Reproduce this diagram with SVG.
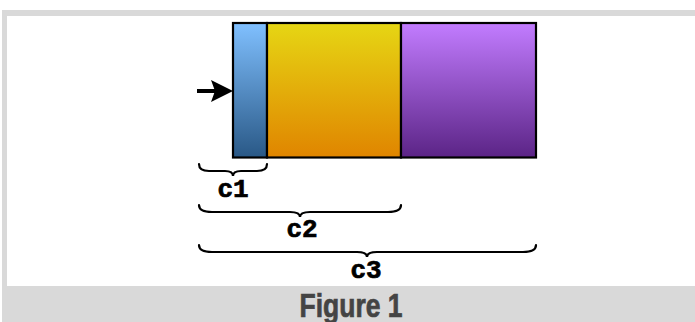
<svg xmlns="http://www.w3.org/2000/svg" width="695" height="322" viewBox="0 0 695 322">
<style>
.box{stroke:#000;stroke-width:2.2}
.brace{fill:none;stroke:#000;stroke-width:2.2;stroke-linecap:round}
.lbl{font-family:"Liberation Mono","Courier New",monospace;font-weight:bold;font-size:26px;fill:#000;stroke:#000;stroke-width:0.7;text-anchor:middle}
.cap{font-family:"Liberation Sans","Arial",sans-serif;font-weight:bold;font-size:33px;fill:#444;stroke:#444;stroke-width:0.7;text-anchor:middle}
</style>
<defs>
<linearGradient id="gb" x1="0" y1="0" x2="0" y2="1"><stop offset="0" stop-color="#80c0ff"/><stop offset="1" stop-color="#295886"/></linearGradient>
<linearGradient id="gy" x1="0" y1="0" x2="0" y2="1"><stop offset="0" stop-color="#e6d614"/><stop offset="1" stop-color="#e08500"/></linearGradient>
<linearGradient id="gp" x1="0" y1="0" x2="0" y2="1"><stop offset="0" stop-color="#c27cff"/><stop offset="1" stop-color="#5b2486"/></linearGradient>
</defs>
<rect x="2" y="10" width="700" height="320" fill="#d9d9d9"/>
<rect x="7" y="16" width="700" height="270" fill="#fff"/>
<g id="n-blue"><rect class="box" x="233" y="23" width="34" height="134.5" fill="url(#gb)"/></g>
<g id="n-yellow"><rect class="box" x="267" y="23" width="134" height="134.5" fill="url(#gy)"/></g>
<g id="n-purple"><rect class="box" x="401" y="23" width="135" height="134.5" fill="url(#gp)"/></g>
<g id="connectors">
<line x1="197" y1="91" x2="216" y2="91" stroke="#000" stroke-width="4"/>
<path d="M211,80 L233,91 L211,102 L215,91 z" fill="#000"/>
</g>
<g id="b-c1">
<path class="brace" d="M199,164 Q199,171 209,171 L225,171 Q233,171 233,176 Q233,171 241,171 L257,171 Q267,171 267,164"/>
<text class="lbl" x="233" y="197">c1</text>
</g>
<g id="b-c2">
<path class="brace" d="M199,205 Q199,212 212,212 L290,212 Q300,212 300,217 Q300,212 310,212 L388,212 Q401,212 401,205"/>
<text class="lbl" x="302" y="237">c2</text>
</g>
<g id="b-c3">
<path class="brace" d="M199,245 Q199,252 212,252 L357,252 Q367,252 367,257 Q367,252 377,252 L523,252 Q536,252 536,245"/>
<text class="lbl" x="366" y="278">c3</text>
</g>
<text class="cap" x="351" y="316.5" textLength="103" lengthAdjust="spacingAndGlyphs">Figure 1</text>
</svg>
